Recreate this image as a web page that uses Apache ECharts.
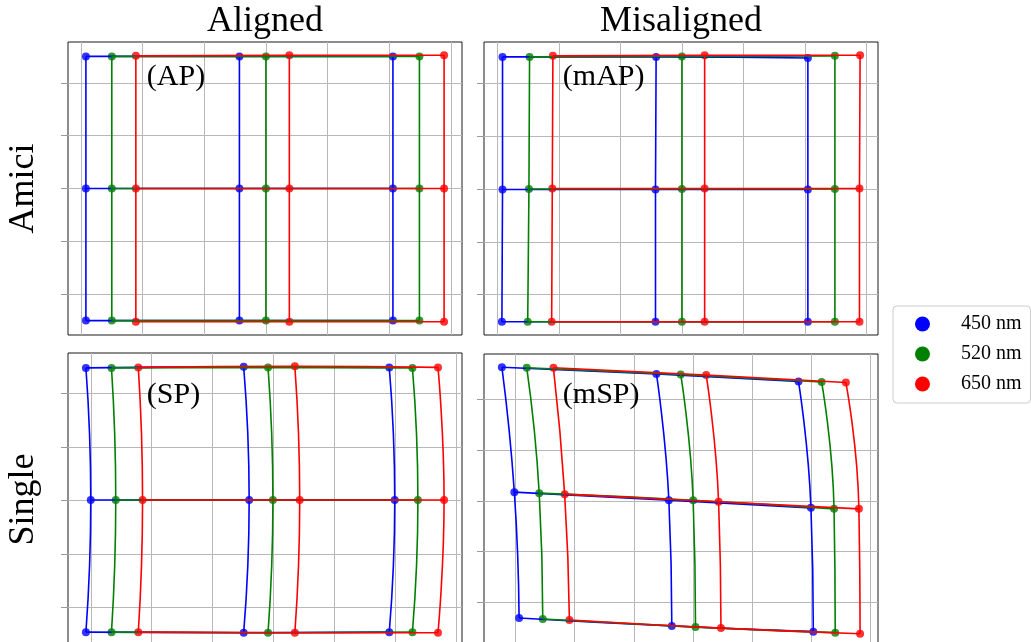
<!DOCTYPE html>
<html><head><meta charset="utf-8">
<script src="https://cdn.jsdelivr.net/npm/echarts@6/dist/echarts.min.js"></script>
<style>html,body{margin:0;padding:0;background:#fff}#chart{width:1031px;height:642px}</style>
</head><body><div id="chart"></div>
<script>
const wavelengths = ['450 nm', '520 nm', '650 nm'];
const colors = ['#0000ff', '#008000', '#ff0000'];
const panelNames = ['(AP)', '(mAP)', '(SP)', '(mSP)'];
const columnTitles = ['Aligned', 'Misaligned'];
const rowTitles = ['Amici', 'Single'];

// 3x3 grid points, row-major: rows top/middle/bottom, columns left/middle/right
const AP_450_X = [-2.92, -0.43, 2.06, -2.92, -0.43, 2.06, -2.92, -0.43, 2.06];
const AP_450_Y = [2.50, 2.50, 2.50, 0.00, 0.00, 0.00, -2.50, -2.50, -2.50];
const AP_520_X = [-2.50, 0.00, 2.49, -2.50, 0.00, 2.49, -2.50, 0.00, 2.49];
const AP_520_Y = [2.50, 2.50, 2.50, 0.00, 0.00, 0.00, -2.50, -2.50, -2.50];
const AP_650_X = [-2.11, 0.38, 2.89, -2.11, 0.38, 2.89, -2.11, 0.38, 2.89];
const AP_650_Y = [2.51, 2.52, 2.52, 0.00, 0.00, 0.00, -2.52, -2.52, -2.52];

const MAP_450_X = [-2.92, -0.42, 2.05, -2.92, -0.43, 2.05, -2.93, -0.43, 2.05];
const MAP_450_Y = [2.50, 2.50, 2.48, -0.01, -0.01, -0.01, -2.51, -2.51, -2.51];
const MAP_520_X = [-2.48, 0.00, 2.49, -2.49, 0.00, 2.49, -2.51, 0.00, 2.49];
const MAP_520_Y = [2.50, 2.51, 2.52, 0.00, 0.00, 0.00, -2.51, -2.51, -2.51];
const MAP_650_X = [-2.10, 0.37, 2.90, -2.11, 0.37, 2.89, -2.12, 0.37, 2.89];
const MAP_650_Y = [2.52, 2.53, 2.53, 0.01, 0.01, 0.01, -2.51, -2.51, -2.51];

const SP_450_X = [-3.08, -0.49, 1.90, -3.00, -0.40, 1.99, -3.08, -0.49, 1.90];
const SP_450_Y = [2.48, 2.50, 2.49, 0.01, 0.01, 0.01, -2.46, -2.47, -2.46];
const SP_520_X = [-2.66, -0.09, 2.28, -2.59, -0.01, 2.37, -2.66, -0.09, 2.28];
const SP_520_Y = [2.48, 2.49, 2.48, 0.01, 0.01, 0.01, -2.46, -2.47, -2.46];
const SP_650_X = [-2.22, 0.35, 2.70, -2.15, 0.43, 2.80, -2.22, 0.35, 2.70];
const SP_650_Y = [2.49, 2.51, 2.49, 0.01, 0.01, 0.01, -2.46, -2.47, -2.47];

const MSP_450_X = [-3.23, -0.62, 1.78, -3.02, -0.41, 1.99, -2.94, -0.36, 2.03];
const MSP_450_Y = [2.63, 2.50, 2.35, 0.17, 0.01, -0.14, -2.31, -2.47, -2.58];
const MSP_520_X = [-2.81, -0.21, 2.17, -2.60, 0.00, 2.38, -2.54, 0.04, 2.40];
const MSP_520_Y = [2.62, 2.49, 2.34, 0.15, 0.01, -0.16, -2.33, -2.49, -2.60];
const MSP_650_X = [-2.36, 0.22, 2.58, -2.17, 0.43, 2.80, -2.09, 0.47, 2.82];
const MSP_650_Y = [2.62, 2.48, 2.33, 0.13, -0.02, -0.16, -2.35, -2.51, -2.62];

const panelX = [
  [AP_450_X, AP_520_X, AP_650_X],
  [MAP_450_X, MAP_520_X, MAP_650_X],
  [SP_450_X, SP_520_X, SP_650_X],
  [MSP_450_X, MSP_520_X, MSP_650_X]
];
const panelY = [
  [AP_450_Y, AP_520_Y, AP_650_Y],
  [MAP_450_Y, MAP_520_Y, MAP_650_Y],
  [SP_450_Y, SP_520_Y, SP_650_Y],
  [MSP_450_Y, MSP_520_Y, MSP_650_Y]
];

// layout
const gridBoxes = [
  {left: 68, top: 42}, {left: 484, top: 42},
  {left: 68, top: 353}, {left: 484, top: 354}
];
const GW = 394, GH = 293;
const FONT = '"Liberation Serif", "DejaVu Serif", serif';

function extent(arrs) {
  let lo = Infinity, hi = -Infinity;
  arrs.forEach(a => a.forEach(v => { lo = Math.min(lo, v); hi = Math.max(hi, v); }));
  const m = (hi - lo) * 0.05;
  return [lo - m, hi + m];
}
function intTicks(ext) {
  const t = [];
  for (let v = Math.ceil(ext[0]); v <= Math.floor(ext[1]); v++) t.push(v);
  return t;
}

const grids = [], xAxes = [], yAxes = [], series = [], graphics = [];
for (let p = 0; p < 4; p++) {
  grids.push({left: gridBoxes[p].left, top: gridBoxes[p].top, width: GW, height: GH,
    show: true, borderColor: '#1a1a1a', borderWidth: 1, backgroundColor: 'transparent',
    containLabel: false, outerBoundsMode: 'none'});
  const ex = extent(panelX[p]), ey = extent(panelY[p]);
  xAxes.push({gridIndex: p, type: 'value', min: ex[0], max: ex[1],
    axisLabel: {show: false}, axisLine: {show: false, onZero: false},
    axisTick: {show: false, customValues: intTicks(ex)},
    splitLine: {show: true, lineStyle: {color: '#b8b8b8', width: 1}}});
  yAxes.push({gridIndex: p, type: 'value', min: ey[0], max: ey[1],
    axisLabel: {show: false}, axisLine: {show: false, onZero: false},
    axisTick: {show: true, inside: false, length: 7, lineStyle: {color: '#999'}, customValues: intTicks(ey)},
    splitLine: {show: true, lineStyle: {color: '#b8b8b8', width: 1}}});
  for (let c = 0; c < 3; c++) {
    const xs = panelX[p][c], ys = panelY[p][c];
    const lines = [];
    for (let r = 0; r < 3; r++) lines.push([0, 1, 2].map(j => [xs[3 * r + j], ys[3 * r + j]]));
    for (let j = 0; j < 3; j++) lines.push([0, 1, 2].map(r => [xs[3 * r + j], ys[3 * r + j]]));
    lines.forEach(pts => series.push({
      type: 'line', name: wavelengths[c], xAxisIndex: p, yAxisIndex: p, data: pts,
      smooth: true, showSymbol: false, symbol: 'none', silent: true,
      lineStyle: {color: colors[c], width: 1.6}, itemStyle: {color: colors[c]}
    }));
    series.push({
      type: 'scatter', name: wavelengths[c], xAxisIndex: p, yAxisIndex: p,
      data: xs.map((x, i) => [x, ys[i]]), symbolSize: 8, silent: true,
      itemStyle: {color: colors[c]}
    });
  }
  graphics.push({type: 'text', x: gridBoxes[p].left + 0.2 * GW, y: p < 2 ? 77 : 395,
    style: {text: panelNames[p], font: '30px ' + FONT, fill: '#000', align: 'left', verticalAlign: 'middle'}, z: 10});
}
columnTitles.forEach((t, i) => graphics.push({type: 'text', x: gridBoxes[i].left + GW / 2, y: 22,
  style: {text: t, font: '36px ' + FONT, fill: '#000', align: 'center', verticalAlign: 'middle'}}));
rowTitles.forEach((t, i) => graphics.push({type: 'text', x: 24, y: gridBoxes[2 * i].top + GH / 2,
  rotation: Math.PI / 2,
  style: {text: t, font: '36px ' + FONT, fill: '#000', align: 'center', verticalAlign: 'middle'}}));

const chart = echarts.init(document.getElementById('chart'), null, {renderer: 'canvas'});
chart.setOption({
  animation: false,
  backgroundColor: '#fff',
  grid: grids, xAxis: xAxes, yAxis: yAxes, series: series, graphic: graphics,
  legend: {
    data: wavelengths, orient: 'vertical', left: 893, top: 306, icon: 'circle',
    itemWidth: 15, itemHeight: 15, itemGap: 10, padding: [8, 9, 9, 22],
    borderColor: '#cccccc', borderWidth: 1, borderRadius: 4, backgroundColor: '#fff',
    selectedMode: false,
    textStyle: {fontFamily: FONT, fontSize: 20, color: '#000', padding: [0, 0, 0, 26], lineHeight: 19}
  }
});
</script></body></html>
